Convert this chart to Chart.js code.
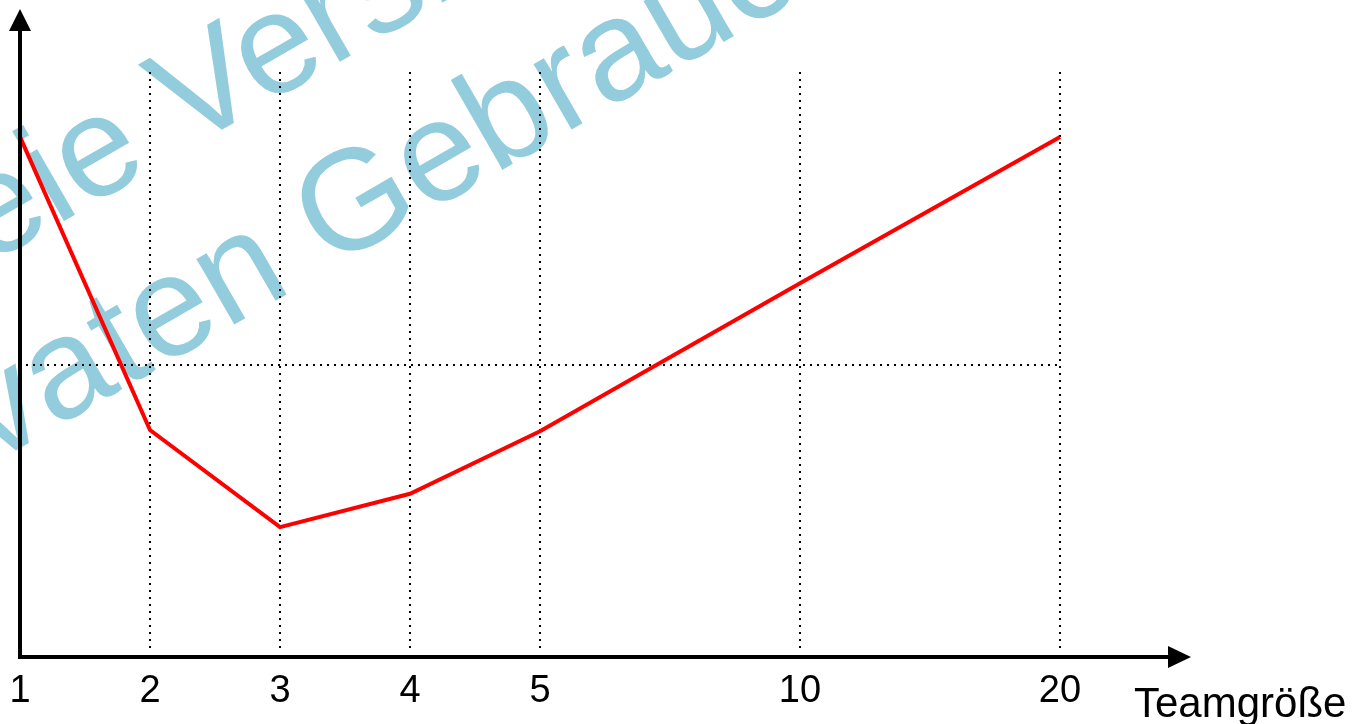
<!DOCTYPE html>
<html lang="de">
<head>
<meta charset="utf-8">
<title>Teamgröße</title>
<script src="https://cdn.jsdelivr.net/npm/chart.js@4/dist/chart.umd.min.js"></script>
<style>
  html, body { margin: 0; padding: 0; background: #ffffff; }
  #wrap { width: 1365px; height: 724px; position: relative; }
</style>
</head>
<body>
<div id="wrap"><canvas id="c" width="1365" height="724"></canvas></div>
<script>
// Team sizes along the x axis; empty slots keep the spacing between 5, 10 and 20.
const teamSizes = ['1', '2', '3', '4', '5', '', '10', '', '20'];
// Curve value for each team size (null on the empty slots).
const curveValues = [8.89, 3.88, 2.22, 2.79, 3.86, null, 6.39, null, 8.89];
// Horizontal reference line(s).
const referenceLevels = [5];
const axisTitle = 'Teamgröße';
const watermarkLines = ['Freie Version', 'privaten Gebrauch'];

const FONT = '"Liberation Sans", Arial, Helvetica, sans-serif';

const watermarkPlugin = {
  id: 'watermark',
  beforeDraw(chart) {
    const ctx = chart.ctx;
    ctx.save();
    ctx.fillStyle = '#ffffff';
    ctx.fillRect(0, 0, chart.width, chart.height);
    const angle = -30 * Math.PI / 180;
    const origins = [[-130, 333], [-146, 544]];
    ctx.fillStyle = '#93cddd';
    ctx.font = '143px ' + FONT;
    ctx.textAlign = 'left';
    ctx.textBaseline = 'alphabetic';
    watermarkLines.forEach((t, i) => {
      ctx.save();
      ctx.translate(origins[i][0], origins[i][1]);
      ctx.rotate(angle);
      ctx.fillText(t, 0, 0);
      ctx.restore();
    });
    ctx.restore();
  }
};

const gridPlugin = {
  id: 'dottedGrid',
  beforeDatasetsDraw(chart) {
    const ctx = chart.ctx;
    const xs = chart.scales.x, ys = chart.scales.y;
    const area = chart.chartArea;
    ctx.save();
    ctx.strokeStyle = '#000000';
    ctx.lineWidth = 2;
    ctx.setLineDash([2, 5]);
    teamSizes.forEach((lab, i) => {
      if (!lab || i === 0) return;
      const x = Math.round(xs.getPixelForValue(i));
      ctx.beginPath();
      ctx.moveTo(x, area.top);
      ctx.lineTo(x, area.bottom - 4);
      ctx.stroke();
    });
    referenceLevels.forEach(v => {
      const y = Math.round(ys.getPixelForValue(v));
      ctx.beginPath();
      ctx.moveTo(area.left + 6, y);
      ctx.lineTo(xs.getPixelForValue(teamSizes.length - 1), y);
      ctx.stroke();
    });
    ctx.restore();
  }
};

const axesPlugin = {
  id: 'arrowAxes',
  afterDatasetsDraw(chart) {
    const ctx = chart.ctx;
    const xs = chart.scales.x, ys = chart.scales.y;
    const x0 = xs.getPixelForValue(0);
    const y0 = ys.getPixelForValue(0);
    ctx.save();
    ctx.strokeStyle = '#000000';
    ctx.fillStyle = '#000000';
    ctx.lineWidth = 4;
    ctx.lineJoin = 'miter';
    ctx.setLineDash([]);
    ctx.beginPath();
    ctx.moveTo(x0, 28);
    ctx.lineTo(x0, y0);
    ctx.lineTo(1170, y0);
    ctx.stroke();
    // arrow heads
    ctx.beginPath();
    ctx.moveTo(x0, 9);
    ctx.lineTo(x0 + 11, 31);
    ctx.lineTo(x0 - 11, 31);
    ctx.closePath();
    ctx.fill();
    ctx.beginPath();
    ctx.moveTo(1191, y0);
    ctx.lineTo(1168, y0 - 11);
    ctx.lineTo(1168, y0 + 11);
    ctx.closePath();
    ctx.fill();
    // tick labels
    ctx.font = '38px ' + FONT;
    ctx.textAlign = 'center';
    ctx.textBaseline = 'alphabetic';
    teamSizes.forEach((lab, i) => {
      if (!lab) return;
      ctx.fillText(lab, xs.getPixelForValue(i), 702);
    });
    ctx.font = '42px ' + FONT;
    ctx.textAlign = 'left';
    ctx.fillText(axisTitle, 1134, 717);
    ctx.restore();
  }
};

new Chart(document.getElementById('c'), {
  type: 'line',
  data: {
    labels: teamSizes,
    datasets: [{
      data: curveValues,
      borderColor: '#ff0000',
      borderWidth: 4,
      pointRadius: 0,
      tension: 0,
      spanGaps: true,
      fill: false,
      clip: false
    }]
  },
  options: {
    responsive: false,
    animation: false,
    events: [],
    layout: { padding: { left: 20, top: 72, right: 305, bottom: 67 } },
    plugins: { legend: { display: false }, tooltip: { enabled: false }, title: { display: false } },
    scales: {
      x: { type: 'category', display: false, offset: false },
      y: { type: 'linear', display: false, min: 0, max: 10 }
    }
  },
  plugins: [watermarkPlugin, gridPlugin, axesPlugin]
});
</script>
</body>
</html>
